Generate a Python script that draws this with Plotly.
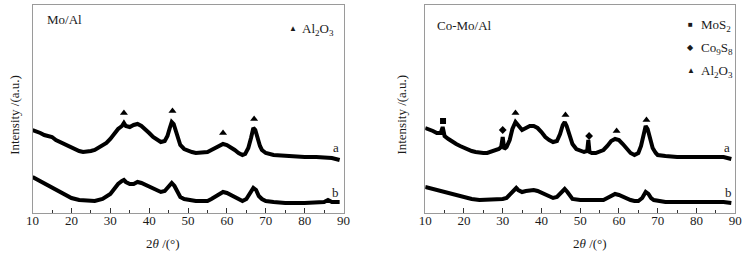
import plotly.graph_objects as go

# ---------------- data (2theta in degrees, intensity in a.u.) ----------------
mo_a_x = [10, 11, 12, 13, 14, 15, 16, 17, 18, 19, 20, 21, 22, 23, 24, 25, 26, 27, 28, 29, 30, 31, 32, 33,
          33.5, 34, 35, 36, 37, 38, 39, 40, 41, 42, 43, 44, 44.7, 45.3, 45.8, 46.3, 46.8, 47.5, 48, 49, 50,
          51, 52, 53, 54, 55, 56, 57, 58, 59, 60, 61, 62, 63, 64, 64.7, 65.5, 66.2, 66.8, 67.3, 67.8, 68.5,
          69, 70, 72, 75, 78, 80, 83, 85, 87, 89]
mo_a_y = [83, 82, 80, 78, 77, 76, 73, 71, 69, 67, 65, 63, 62, 61, 61, 62, 63, 65, 67, 70, 74, 79, 84, 87,
          90, 87, 86, 88, 89, 87, 84, 80, 76, 73, 71, 72, 77, 85, 91, 89, 82, 73, 68, 64, 62,
          61, 60, 60, 60, 61, 63, 65, 68, 69, 68, 66, 63, 60, 58, 59, 65, 75, 85, 83, 76, 67,
          63, 60, 58, 57, 56, 56, 56, 56, 55, 53]

mo_b_x = [10, 11, 12, 13, 14, 15, 16, 17, 18, 19, 20, 22, 24, 26, 28, 29, 30, 31, 32, 33, 33.5, 34, 35, 36,
          37, 38, 39, 40, 41, 42, 43, 44, 45, 45.8, 46.5, 47.3, 48, 49, 50, 52, 54, 55, 56, 57, 58, 59, 60,
          61, 62, 63, 64, 65, 66, 66.8, 67.5, 68.2, 69, 70, 72, 75, 80, 83, 85, 86, 87, 89]
mo_b_y = [36, 34, 32, 29, 27, 25, 23, 21, 19, 17, 15, 13, 12, 12, 14, 16, 19, 24, 29, 32, 33, 31, 29, 29,
          31, 30, 28, 26, 24, 22, 21, 22, 26, 30, 27, 20, 16, 14, 13, 12, 12, 12, 14, 16, 19, 21, 20,
          18, 15, 13, 12, 14, 20, 25, 23, 17, 14, 12, 11, 10, 10, 10, 11, 13, 11, 11]

como_a_x = [10, 11, 12, 13, 14, 14.5, 14.8, 15, 16, 17, 18, 19, 20, 21, 22, 23, 24, 25, 26, 27, 28, 29, 29.6,
            30, 30.4, 31, 31.8, 32.5, 33.3, 34, 35, 36, 37, 38, 39, 40, 41, 42, 43, 44, 44.8, 45.5, 46, 46.5,
            47.2, 48, 49, 50, 51, 51.8, 52.1, 52.4, 53, 54, 55, 56, 57, 58, 59, 60, 61, 62, 63, 64, 65,
            65.7, 66.3, 66.9, 67.4, 68, 68.7, 69.5, 70, 72, 75, 80, 83, 85, 87, 89]
como_a_y = [85, 84, 82, 80, 80, 86, 79, 77, 74, 71, 69, 67, 65, 63, 62, 61, 60, 60, 60, 61, 62, 64, 66,
            76, 64, 66, 73, 84, 91, 87, 83, 85, 87, 87, 85, 81, 76, 73, 71, 72, 79, 88, 91, 87,
            77, 69, 64, 62, 61, 62, 73, 61, 60, 60, 61, 63, 67, 72, 74, 73, 69, 64, 60, 58, 60,
            67, 78, 87, 84, 75, 65, 60, 58, 57, 56, 56, 56, 57, 56, 54]

como_b_x = [10, 11, 12, 13, 15, 17, 19, 20, 22, 24, 26, 28, 30, 31, 32, 33, 33.5, 34, 35, 36, 37, 38, 39, 40,
            41, 42, 43, 44, 45, 46, 46.7, 47.5, 48, 50, 52, 54, 56, 57, 58, 59, 60, 61, 62, 63, 64, 65, 66,
            66.9, 67.6, 68.3, 69, 70, 72, 75, 80, 83, 85, 87, 89]
como_b_y = [26, 25, 23, 22, 20, 18, 16, 15, 14, 13, 13, 13, 14, 15, 19, 24, 25, 23, 21, 22, 23, 23, 22, 20,
            18, 16, 15, 16, 20, 24, 21, 16, 14, 13, 13, 12, 13, 15, 17, 19, 18, 16, 14, 13, 12, 12, 15,
            21, 19, 15, 13, 12, 11, 11, 11, 11, 12, 11, 10]

# phase markers
mo_al2o3_x = [33.5, 46, 59, 67]
mo_al2o3_y = [100, 102, 80, 94]
como_mos2_x = [14.6]
como_mos2_y = [92]
como_co9s8_x = [30, 52.3]
como_co9s8_y = [83, 77]
como_al2o3_x = [33.3, 46.2, 59.4, 67.1]
como_al2o3_y = [100, 98, 82, 93]

x_ticks = [10, 20, 30, 40, 50, 60, 70, 80, 90]
panel_titles = ["Mo/Al", "Co-Mo/Al"]
curve_labels = ["a", "b"]

# ---------------- layout helpers ----------------
W, H = 753, 254
def px(x):
    return x / W
def py(y):
    return 1 - y / H

FONT = "Liberation Serif"
TXT = "#1a1a1a"
LINE = "#000000"
LW = 4

fig = go.Figure()

for xs, ys, ax in [(mo_a_x, mo_a_y, 1), (mo_b_x, mo_b_y, 1),
                   (como_a_x, como_a_y, 2), (como_b_x, como_b_y, 2)]:
    fig.add_trace(go.Scatter(x=xs, y=ys, mode="lines", line=dict(color=LINE, width=LW),
                             xaxis="x" if ax == 1 else "x2", yaxis="y" if ax == 1 else "y2",
                             showlegend=False, hoverinfo="skip"))

def marker_trace(xs, ys, symbol, size, ax):
    return go.Scatter(x=xs, y=ys, mode="markers",
                      marker=dict(symbol=symbol, size=size, color="#000"),
                      xaxis="x" if ax == 1 else "x2", yaxis="y" if ax == 1 else "y2",
                      showlegend=False, hoverinfo="skip")

fig.add_trace(marker_trace(mo_al2o3_x, mo_al2o3_y, "triangle-up", 7, 1))
fig.add_trace(marker_trace(como_mos2_x, como_mos2_y, "square", 6, 2))
fig.add_trace(marker_trace(como_co9s8_x, como_co9s8_y, "diamond", 6, 2))
fig.add_trace(marker_trace(como_al2o3_x, como_al2o3_y, "triangle-up", 7, 2))

ydom = [py(213), py(5)]
axis_common = dict(range=[10, 90], tickvals=x_ticks, ticks="inside", ticklen=5, tickcolor="#333",
                   showline=True, linecolor="#9a9a9a", linewidth=1, mirror=True, showgrid=False,
                   zeroline=False, tickfont=dict(family=FONT, size=13, color=TXT),
                   ticklabelstandoff=-5,
                   minor=dict(dtick=5, tick0=10, ticks="inside", ticklen=3, tickcolor="#333"))
yaxis_common = dict(range=[0, 208], showticklabels=False, ticks="", showline=True,
                    linecolor="#9a9a9a", linewidth=1, mirror=True, showgrid=False, zeroline=False,
                    domain=ydom)

fig.update_layout(
    width=W, height=H, margin=dict(l=0, r=0, t=0, b=0),
    paper_bgcolor="white", plot_bgcolor="white", showlegend=False,
    xaxis=dict(domain=[px(27), px(343)], anchor="y", **axis_common),
    yaxis=dict(anchor="x", **yaxis_common),
    xaxis2=dict(domain=[px(426), px(741)], anchor="y2", **axis_common),
    yaxis2=dict(anchor="x2", **yaxis_common),
)

ann = []
def A(text, x, y, size=13, xanchor="center", yanchor="middle", angle=0, xref="paper", yref="paper"):
    ann.append(dict(text=text, x=x, y=y, xref=xref, yref=yref, showarrow=False,
                    xanchor=xanchor, yanchor=yanchor, textangle=angle,
                    font=dict(family=FONT, size=size, color=TXT)))

# panel titles
A(panel_titles[0], px(40), py(20), xanchor="left")
A(panel_titles[1], px(436), py(25), xanchor="left")
# axis titles
A("2<i>θ</i> /(°)", px(160), py(243))
A("2<i>θ</i> /(°)", px(593), py(243))
A("Intensity /(a.u.)", px(8), py(115), angle=-90)
A("Intensity /(a.u.)", px(401), py(115), angle=-90)
# curve labels
A(curve_labels[0], 88, 66, xref="x", yref="y")
A(curve_labels[1], 88, 21, xref="x", yref="y")
A(curve_labels[0], 88, 66, xref="x2", yref="y2")
A(curve_labels[1], 88.3, 21, xref="x2", yref="y2")
# legends
A("▲", px(292), py(28), size=8)
A("Al<sub>2</sub>O<sub>3</sub>", px(299), py(29), xanchor="left")
A("■", px(696), py(24), size=8)
A("MoS<sub>2</sub>", px(704), py(25), xanchor="left")
A("◆", px(696), py(47), size=8)
A("Co<sub>9</sub>S<sub>8</sub>", px(704), py(48), xanchor="left")
A("▲", px(696), py(71), size=8)
A("Al<sub>2</sub>O<sub>3</sub>", px(704), py(72), xanchor="left")

fig.update_layout(annotations=ann)
fig.write_html("out.html", config={"displayModeBar": False},
               post_script="document.body.style.margin='0';document.body.style.overflow='hidden';")
